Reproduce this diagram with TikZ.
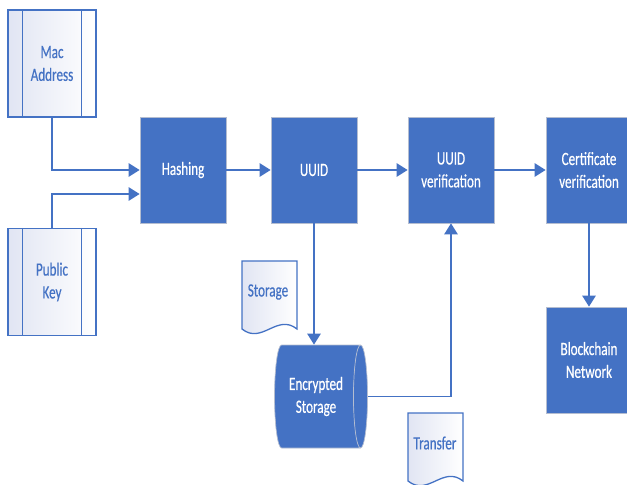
\documentclass[tikz,border=0pt]{standalone}
\usepackage{fontspec}
\setmainfont{Carlito}[FakeStretch=0.7,FakeBold=0.4]
\usetikzlibrary{arrows.meta,shapes.geometric}
\definecolor{ofblue}{HTML}{4472C4}
\definecolor{ofedge}{HTML}{B4BDD0}
\definecolor{oflight}{HTML}{E1E5F3}

\tikzset{
  boxfont/.style={font=\fontsize{16}{19.5}\selectfont},
  proc/.style={rectangle,fill=ofblue,draw=ofedge,line width=0.6pt,text=white,
    minimum width=2.58cm,minimum height=3.18cm,align=center,boxfont},
  predef/.style={rectangle,draw=ofblue,line width=1.1pt,left color=oflight,right color=white,
    text=ofblue,minimum width=2.64cm,minimum height=3.21cm,align=center,boxfont},
  store/.style={cylinder,shape aspect=0.3,cylinder uses custom fill,cylinder body fill=ofblue,
    cylinder end fill=ofblue,draw=ofedge,line width=0.6pt,text=white,
    minimum width=3.09cm,minimum height=2.79cm,align=center,boxfont},
  docline/.style={draw=ofblue,line width=1.1pt,left color=oflight,right color=white},
  doctext/.style={text=ofblue,boxfont},
  flow/.style={draw=ofblue,line width=1.5pt,-{Triangle[length=0.33cm,width=0.4cm]}},
  plain/.style={draw=ofblue,line width=1.5pt}
}

\begin{document}
\begin{tikzpicture}[x=0.03cm,y=-0.03cm]
    \clip (0,0) rectangle (627,484);
    \node[predef] (mac) at (52,63.5) {Mac\\Address};
    \node[predef] (pub) at (52,282) {Public\\Key};
    \foreach \n in {mac,pub}{
      \draw[ofblue,line width=1.1pt] ([xshift=0.45cm]\n.north west)--([xshift=0.45cm]\n.south west);
      \draw[ofblue,line width=1.1pt] ([xshift=-0.45cm]\n.north east)--([xshift=-0.45cm]\n.south east);
    }
    \node[proc] (hash) at (183,170) {Hashing};
    \node[proc] (uuid) at (314,170) {UUID};
    \node[proc] (uver) at (451,170) {UUID\\verification};
    \node[proc] (cert) at (589,170) {Certificate\\verification};
    \node[proc] (chain) at (589,360) {Blockchain\\Network};
    \node[store] (enc) at (316,396.5) {Encrypted\\Storage};
    \draw[docline] (242,261)--(297,261)--(297,329) .. controls (277,313) and (262,345) .. (242,329)--cycle;
    \node[doctext] (storlbl) at (268,292) {Storage};
    \draw[docline] (408,413)--(463,413)--(463,481) .. controls (443,465) and (428,497) .. (408,481)--cycle;
    \node[doctext] (translbl) at (435,443) {Transfer};
    \draw[flow] (mac.south) |- (hash.west);
    \draw[flow] (pub.north) |- ([yshift=-0.72cm]hash.west);
    \draw[flow] (hash) -- (uuid);
    \draw[flow] (uuid) -- (uver);
    \draw[flow] (uver) -- (cert);
    \draw[flow] (cert) -- (chain);
    \draw[flow] (uuid.south) -- (uuid.south |- enc.north);
    \draw[flow] (enc.east) -| (uver.south);
  \end{tikzpicture}
\end{document}
